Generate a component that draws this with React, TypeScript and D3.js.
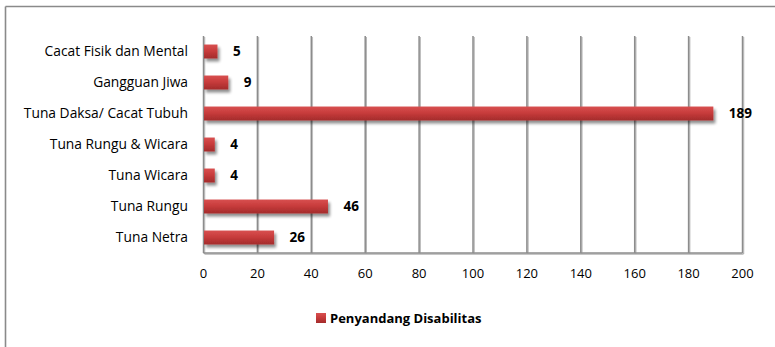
import React from "react";
import * as d3 from "d3";

const categories = [
  "Cacat Fisik dan Mental",
  "Gangguan Jiwa",
  "Tuna Daksa/ Cacat Tubuh",
  "Tuna Rungu & Wicara",
  "Tuna Wicara",
  "Tuna Rungu",
  "Tuna Netra",
];
const values = [5, 9, 189, 4, 4, 46, 26];
const xTicks = [0, 20, 40, 60, 80, 100, 120, 140, 160, 180, 200];
const seriesName = "Penyandang Disabilitas";

const W = 775;
const H = 347;
const FONT = "'Open Sans', Lato, sans-serif";

export default function App() {
  const x = d3.scaleLinear().domain([0, 200]).range([203.5, 742.5]);
  const y = d3.scaleBand().domain(categories).range([36, 253]).paddingInner(0.55).paddingOuter(0.275);
  const barH = y.bandwidth();

  return (
    <svg
      width={W}
      height={H}
      style={{ position: "absolute", left: 0, top: 0, background: "#fff" }}
      fontFamily={FONT}
    >
      <defs>
        <linearGradient id="barFill" x1="0" y1="0" x2="0" y2="1">
          <stop offset="0" stopColor="#d85050" />
          <stop offset="0.45" stopColor="#c83c3c" />
          <stop offset="1" stopColor="#a32b2b" />
        </linearGradient>
        <filter id="shadow" x="-5%" y="-40%" width="115%" height="200%">
          <feGaussianBlur in="SourceAlpha" stdDeviation="1.6" />
          <feOffset dx="1.5" dy="2.5" result="b" />
          <feComponentTransfer>
            <feFuncA type="linear" slope="0.45" />
          </feComponentTransfer>
          <feMerge>
            <feMergeNode />
            <feMergeNode in="SourceGraphic" />
          </feMerge>
        </filter>
        <filter id="lineShadow" x="-50%" y="-5%" width="200%" height="110%">
          <feGaussianBlur in="SourceAlpha" stdDeviation="0.6" />
          <feOffset dx="1" dy="1" />
          <feComponentTransfer>
            <feFuncA type="linear" slope="0.3" />
          </feComponentTransfer>
          <feMerge>
            <feMergeNode />
            <feMergeNode in="SourceGraphic" />
          </feMerge>
        </filter>
      </defs>

      {/* outer chart frame */}
      <line x1={5.5} x2={W} y1={6.5} y2={6.5} stroke="#8a8a8a" strokeWidth={1.3} />
      <line x1={5.5} x2={5.5} y1={6.5} y2={H} stroke="#8a8a8a" strokeWidth={1.6} />

      {/* vertical gridlines */}
      <g filter="url(#lineShadow)">
        {xTicks.map((t) => (
          <line
            key={t}
            x1={x(t)}
            x2={x(t)}
            y1={36}
            y2={253}
            stroke="#8c8c8c"
            strokeWidth={1.5}
          />
        ))}
        <line x1={x(0)} x2={x(200)} y1={253} y2={253} stroke="#8c8c8c" strokeWidth={1.5} />
      </g>

      {/* bars */}
      <g filter="url(#shadow)">
        {categories.map((c, i) => (
          <rect
            key={c}
            x={x(0) + 0.5}
            y={y(c)!}
            width={x(values[i]) - x(0)}
            height={barH}
            fill="url(#barFill)"
          />
        ))}
      </g>

      {/* value labels */}
      {categories.map((c, i) => (
        <text
          key={c}
          x={x(values[i]) + 16}
          y={y(c)! + barH / 2}
          dy="0.35em"
          fontSize={13.5}
          fontWeight="bold"
          fill="#000"
        >
          {values[i]}
        </text>
      ))}

      {/* category labels */}
      {categories.map((c) => (
        <text
          key={c}
          x={188}
          y={y(c)! + barH / 2}
          dy="0.35em"
          fontSize={13.8}
          textAnchor="end"
          fill="#000"
        >
          {c}
        </text>
      ))}

      {/* x tick labels */}
      {xTicks.map((t) => (
        <text key={t} x={x(t)} y={273} dy="0.35em" fontSize={13} textAnchor="middle" fill="#000">
          {t}
        </text>
      ))}

      {/* legend */}
      <rect x={316} y={313} width={10} height={10} fill="url(#barFill)" />
      <text x={330} y={318} dy="0.35em" fontSize={13} fontWeight="bold" fill="#000">
        {seriesName}
      </text>
    </svg>
  );
}
